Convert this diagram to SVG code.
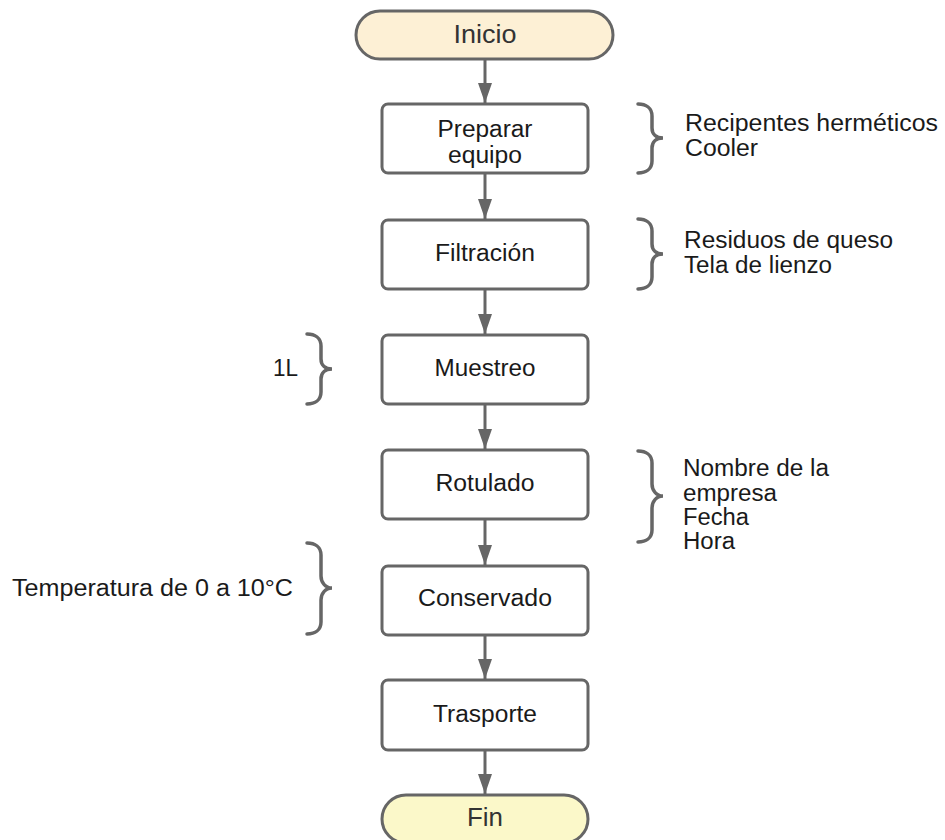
<svg xmlns="http://www.w3.org/2000/svg" width="945" height="840" viewBox="0 0 945 840">
<style>
.box{fill:#ffffff;stroke:#666666;stroke-width:3}
.term{stroke:#666666;stroke-width:3}
.t{font-family:"Liberation Sans",Arial,sans-serif;font-size:23.5px;fill:#1a1a1a}
.c{text-anchor:middle}
.tt{font-family:"Liberation Sans",Arial,sans-serif;font-size:26px;fill:#333333;text-anchor:middle}
.conn{stroke:#666666;stroke-width:3;fill:none}
.brace{stroke:#666666;stroke-width:3.5;fill:none;stroke-linecap:round}
</style>
<defs>
<marker id="ah" viewBox="0 -7 20 14" refX="20" refY="0" markerWidth="20" markerHeight="14" markerUnits="userSpaceOnUse" orient="auto">
<path d="M0,-7 L20,0 L0,7 Z" fill="#666666"/>
</marker>
</defs>
<rect width="945" height="840" fill="#ffffff"/>
<g id="connectors">
<line class="conn" x1="485" y1="59" x2="485" y2="103" marker-end="url(#ah)"/>
<line class="conn" x1="485" y1="173" x2="485" y2="219" marker-end="url(#ah)"/>
<line class="conn" x1="485" y1="289" x2="485" y2="334" marker-end="url(#ah)"/>
<line class="conn" x1="485" y1="404" x2="485" y2="449" marker-end="url(#ah)"/>
<line class="conn" x1="485" y1="519" x2="485" y2="565" marker-end="url(#ah)"/>
<line class="conn" x1="485" y1="635" x2="485" y2="679" marker-end="url(#ah)"/>
<line class="conn" x1="485" y1="750" x2="485" y2="794" marker-end="url(#ah)"/>
</g>
<g id="inicio">
<rect class="term" x="356" y="11" width="257" height="48" rx="24" fill="#fdf0d5"/>
<text class="tt" x="485" y="43" textLength="63" lengthAdjust="spacingAndGlyphs">Inicio</text>
</g>
<g id="preparar">
<rect class="box" x="382" y="104" width="206" height="69" rx="6"/>
<text class="t c" x="485" y="137" textLength="95" lengthAdjust="spacingAndGlyphs">Preparar</text>
<text class="t c" x="485" y="163" textLength="74" lengthAdjust="spacingAndGlyphs">equipo</text>
</g>
<g id="filtracion">
<rect class="box" x="382" y="220" width="206" height="69" rx="6"/>
<text class="t c" x="485" y="261" textLength="100" lengthAdjust="spacingAndGlyphs">Filtración</text>
</g>
<g id="muestreo">
<rect class="box" x="382" y="335" width="206" height="69" rx="6"/>
<text class="t c" x="485" y="376" textLength="101" lengthAdjust="spacingAndGlyphs">Muestreo</text>
</g>
<g id="rotulado">
<rect class="box" x="382" y="450" width="206" height="69" rx="6"/>
<text class="t c" x="485" y="491" textLength="99" lengthAdjust="spacingAndGlyphs">Rotulado</text>
</g>
<g id="conservado">
<rect class="box" x="382" y="566" width="206" height="69" rx="6"/>
<text class="t c" x="485" y="606" textLength="134" lengthAdjust="spacingAndGlyphs">Conservado</text>
</g>
<g id="trasporte">
<rect class="box" x="382" y="680" width="206" height="70" rx="6"/>
<text class="t c" x="485" y="722" textLength="104" lengthAdjust="spacingAndGlyphs">Trasporte</text>
</g>
<g id="fin">
<rect class="term" x="382" y="795" width="206" height="48" rx="24" fill="#fbf8c9"/>
<text class="tt" x="485" y="826" textLength="36" lengthAdjust="spacingAndGlyphs">Fin</text>
</g>
<g id="nota-preparar">
<path class="brace" d="M638,104 C646,104 652,108 652,116 L652,128 C652,134 656,138 663,138 C656,138 652,142 652,148 L652,161 C652,169 646,173 638,173"/>
<text class="t" x="685" y="131" textLength="253" lengthAdjust="spacingAndGlyphs">Recipentes herméticos</text>
<text class="t" x="685" y="156" textLength="73" lengthAdjust="spacingAndGlyphs">Cooler</text>
</g>
<g id="nota-filtracion">
<path class="brace" d="M638,219 C646,219 652,223 652,231 L652,244 C652,250 656,254 663,254 C656,254 652,258 652,264 L652,277 C652,285 646,289 638,289"/>
<text class="t" x="684" y="248" textLength="209" lengthAdjust="spacingAndGlyphs">Residuos de queso</text>
<text class="t" x="684" y="273" textLength="148" lengthAdjust="spacingAndGlyphs">Tela de lienzo</text>
</g>
<g id="nota-muestreo">
<path class="brace" d="M307,334 C315,334 321,338 321,346 L321,359 C321,365 325,369 332,369 C325,369 321,373 321,379 L321,392 C321,400 315,404 307,404"/>
<text class="t" x="273" y="376" textLength="25" lengthAdjust="spacingAndGlyphs">1L</text>
</g>
<g id="nota-rotulado">
<path class="brace" d="M638,451 C646,451 652,455 652,463 L652,484 C652,490 656,496 663,496 C656,496 652,502 652,508 L652,530 C652,538 646,542 638,542"/>
<text class="t" x="683" y="476" textLength="146" lengthAdjust="spacingAndGlyphs">Nombre de la</text>
<text class="t" x="683" y="501" textLength="94" lengthAdjust="spacingAndGlyphs">empresa</text>
<text class="t" x="683" y="525" textLength="66" lengthAdjust="spacingAndGlyphs">Fecha</text>
<text class="t" x="683" y="549" textLength="52" lengthAdjust="spacingAndGlyphs">Hora</text>
</g>
<g id="nota-conservado">
<path class="brace" d="M307,543 C315,543 321,547 321,555 L321,576 C321,582 325,588 332,588 C325,588 321,594 321,600 L321,622 C321,630 315,634 307,634"/>
<text class="t" x="12" y="596" textLength="281" lengthAdjust="spacingAndGlyphs">Temperatura de 0 a 10°C</text>
</g>
</svg>
